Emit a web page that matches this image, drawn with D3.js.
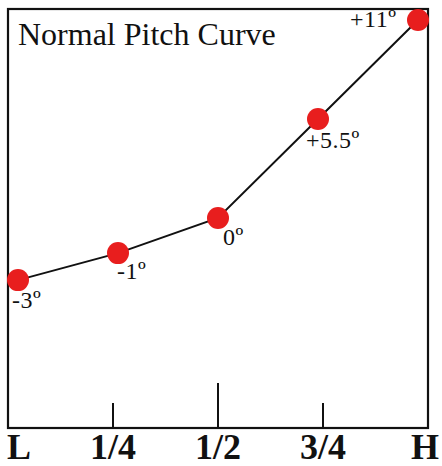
<!DOCTYPE html>
<html>
<head>
<meta charset="utf-8">
<script src="https://cdn.jsdelivr.net/npm/d3@7"></script>
<style>
html,body{margin:0;padding:0;background:#fff;}
svg{display:block;}
</style>
</head>
<body>
<svg id="chart" width="442" height="466"></svg>
<script>
// ---- data ----
const title = "Normal Pitch Curve";
const positions = [0, 0.25, 0.5, 0.75, 1];          // L .. H
const tickLabels = ["L", "1/4", "1/2", "3/4", "H"];
const pitchValues = [-3, -1, 0, 5.5, 11];              // labelled pitch (degrees)
const pitchLabels = ["-3", "-1", "0", "+5.5", "+11"];
const plottedPitch = [-3.45, -1.95, 0, 5.5, 11];       // vertical position as drawn

const serif = "'Liberation Serif', 'Times New Roman', serif";
const svg = d3.select("#chart");
const frame = {x0: 8, y0: 9, x1: 428, y1: 428};

const xAxis = d3.scaleLinear().domain([0, 1]).range([frame.x0, frame.x1]);
const xPt = d3.scaleLinear().domain([0, 1]).range([18, 418]);
const y = d3.scaleLinear().domain([0, 11]).range([218, 20]);

// frame
svg.append("rect")
  .attr("x", frame.x0).attr("y", frame.y0)
  .attr("width", frame.x1 - frame.x0).attr("height", frame.y1 - frame.y0)
  .attr("fill", "none").attr("stroke", "#111").attr("stroke-width", 2.2);

// ticks
svg.selectAll("line.tick").data(positions.slice(1, 4)).enter().append("line")
  .attr("class", "tick")
  .attr("x1", d => xAxis(d)).attr("x2", d => xAxis(d))
  .attr("y1", frame.y1).attr("y2", d => d === 0.5 ? 383 : 403)
  .attr("stroke", "#111").attr("stroke-width", 2);

// tick labels
svg.selectAll("text.tl").data(positions).enter().append("text")
  .attr("class", "tl")
  .attr("x", (d, i) => i === 0 ? 7 : i === 4 ? 439 : xAxis(d))
  .attr("y", 459)
  .attr("text-anchor", (d, i) => i === 0 ? "start" : i === 4 ? "end" : "middle")
  .attr("font-family", serif)
  .attr("font-weight", "bold")
  .attr("font-size", 36)
  .attr("fill", "#111")
  .text((d, i) => tickLabels[i]);

// title
svg.append("text")
  .attr("x", 18).attr("y", 45)
  .attr("font-family", serif)
  .attr("font-size", 32)
  .attr("fill", "#111")
  .text(title);

// line
const pts = positions.map((p, i) => [xPt(p), y(plottedPitch[i])]);
svg.append("path")
  .attr("d", d3.line()(pts))
  .attr("fill", "none").attr("stroke", "#111").attr("stroke-width", 2);

// dots
svg.selectAll("circle").data(pts).enter().append("circle")
  .attr("cx", d => d[0]).attr("cy", d => d[1]).attr("r", 11)
  .attr("fill", "#e81e1e");

// value labels
const labelOffsets = [[-6, 28], [-1, 26], [5, 27], [-12, 29], [-68, 7]];
const lab = svg.selectAll("text.vl").data(pts).enter().append("text")
  .attr("class", "vl")
  .attr("x", (d, i) => d[0] + labelOffsets[i][0])
  .attr("y", (d, i) => d[1] + labelOffsets[i][1])
  .attr("font-family", serif)
  .attr("font-size", 24)
  .attr("letter-spacing", 0.5)
  .attr("fill", "#111");
lab.append("tspan").text((d, i) => pitchLabels[i]);
lab.append("tspan").attr("font-size", 25).text("º");
</script>
</body>
</html>
